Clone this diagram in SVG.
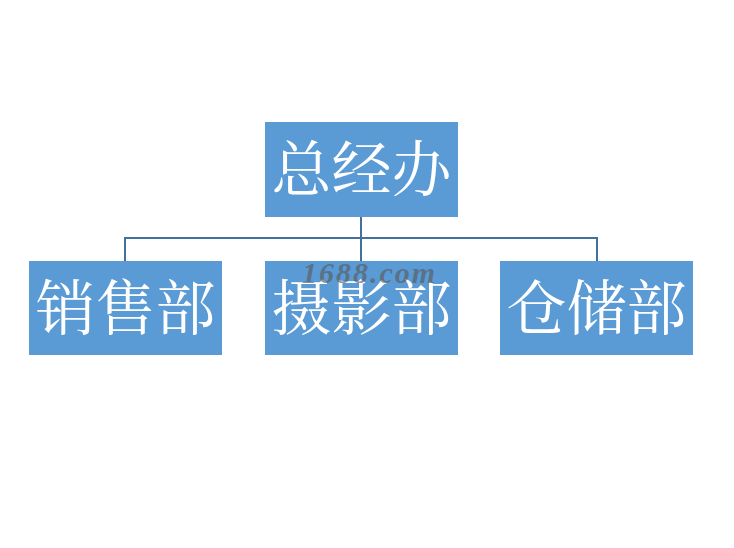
<svg xmlns="http://www.w3.org/2000/svg" width="734" height="548" viewBox="0 0 734 548">
<style>
.box{fill:#5B9BD5;}
.lbl{fill:#FFFFFF;font-family:"Noto Serif CJK SC","Noto Sans CJK SC",serif;font-size:60px;text-anchor:middle;}
.conn{stroke:#41719C;stroke-width:2;fill:none;}
.wm{fill:#5a5a5a;fill-opacity:0.65;font-family:"Liberation Serif",serif;font-style:italic;font-weight:bold;font-size:30px;letter-spacing:2px;}
</style>
<rect width="734" height="548" fill="#FFFFFF"/>
<g id="connectors">
<path class="conn" d="M361,217 V238 M125,261 V238 H597 V261 M361,238 V261"/>
</g>
<g id="node-top">
<rect class="box" x="265" y="122" width="193" height="95"/>
<text class="lbl" x="361.5" y="191">总经办</text>
</g>
<g id="node-sales">
<rect class="box" x="29" y="261" width="193" height="94"/>
<text class="lbl" x="125.5" y="330">销售部</text>
</g>
<g id="node-photo">
<rect class="box" x="265" y="261" width="193" height="94"/>
<text class="lbl" x="361.5" y="330">摄影部</text>
</g>
<g id="node-storage">
<rect class="box" x="500" y="261" width="193" height="94"/>
<text class="lbl" x="596.5" y="330">仓储部</text>
</g>
<text class="wm" x="302" y="283">1688.com</text>
</svg>
